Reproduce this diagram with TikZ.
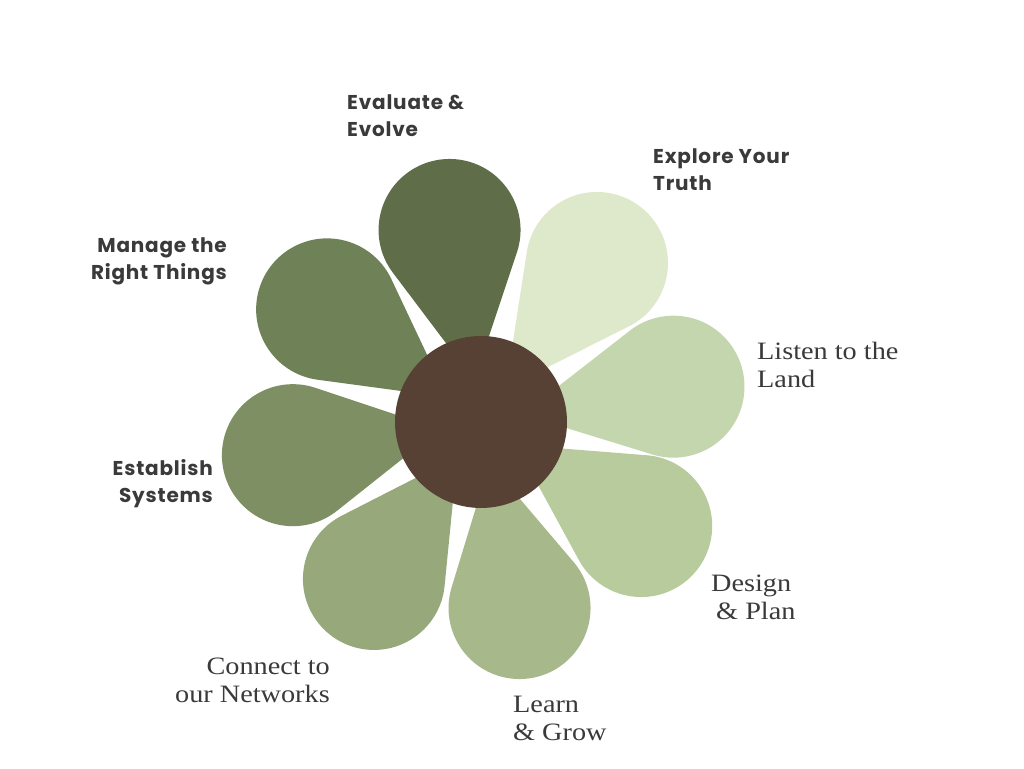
\documentclass[tikz,border=0pt]{standalone}
\usepackage{fontspec}
\newfontfamily\labsans{Poppins}[LetterSpace=4]
\newfontfamily\labserif{Liberation Serif}[FakeStretch=1.13]
\definecolor{pEvaluate}{HTML}{5F6E48}
\definecolor{pManage}{HTML}{6F8156}
\definecolor{pEstablish}{HTML}{7E8F63}
\definecolor{pConnect}{HTML}{97A87A}
\definecolor{pLearn}{HTML}{A7B98B}
\definecolor{pDesign}{HTML}{B8CB9D}
\definecolor{pListen}{HTML}{C4D6AD}
\definecolor{pExplore}{HTML}{DDE9CA}
\definecolor{centre}{HTML}{574134}
\definecolor{txt}{HTML}{3A3A3A}
% petal: tip at 42 from the centre, round end of radius 71 at distance #2
\newcommand\petalat[3]{%
  \pgfmathsetmacro\tangang{180-acos(71/(#2-42))}%
  \begin{scope}[shift={(C)}, rotate=#1]
    \fill[#3]
      (42,0) -- ([shift={(#2,0)}]\tangang:71)
      arc[start angle=\tangang, end angle=-\tangang, radius=71pt]
      -- cycle;
  \end{scope}}
\tikzset{
  boldlab/.style={font=\labsans\bfseries\fontsize{20}{27}\selectfont, text=txt, inner sep=0pt},
  seriflab/.style={font=\labserif\fontsize{25}{28}\selectfont, text=txt, inner sep=0pt}
}
\begin{document}
\begin{tikzpicture}[x=1pt, y=1pt]
\useasboundingbox (0,0) rectangle (1024,768);
\fill[white] (0,0) rectangle (1024,768);
\coordinate (C) at (481,346);
\petalat{99.3}{194.6}{pEvaluate}
\petalat{53.9}{196.8}{pExplore}
\petalat{10.4}{195.7}{pListen}
\petalat{-33}{191}{pDesign}
\petalat{-78.3}{190}{pLearn}
\petalat{-124.3}{190}{pConnect}
\petalat{-170}{191}{pEstablish}
\petalat{143.8}{190.7}{pManage}
\node[circle, fill=centre, minimum size=172pt, inner sep=0pt] (centre) at (C) {};
\node[boldlab, align=left, anchor=base west] (evaluate) at (347,631) {Evaluate \&\\Evolve};
\node[boldlab, align=left, anchor=base west] (explore) at (653,577) {Explore Your\\Truth};
\node[boldlab, align=right, anchor=base east] (manage) at (227,488) {Manage the\\Right Things};
\node[boldlab, align=right, anchor=base east] (establish) at (213,265) {Establish\\Systems};
\node[seriflab, align=right, anchor=base east] (connect) at (330,66) {Connect to\\our Networks};
\node[seriflab, align=left, anchor=base west] (listen) at (757,380) {Listen to the\\Land};
\node[seriflab, align=left, anchor=base west] (design) at (711,148) {Design\\\hspace{5pt}\& Plan};
\node[seriflab, align=left, anchor=base west] (learn) at (513,28) {Learn\\\& Grow};
\end{tikzpicture}
\end{document}
